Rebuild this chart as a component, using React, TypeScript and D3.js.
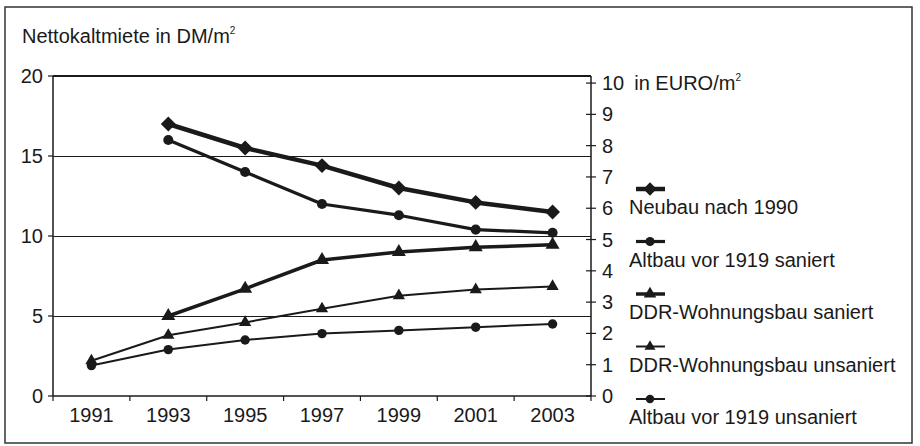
import React from "react";
import * as d3 from "d3";

const years = ["1991", "1993", "1995", "1997", "1999", "2001", "2003"];
const seriesNames = [
  "Neubau nach 1990",
  "Altbau vor 1919 saniert",
  "DDR-Wohnungsbau saniert",
  "DDR-Wohnungsbau unsaniert",
  "Altbau vor 1919 unsaniert",
];
const neubau = [null, 17, 15.5, 14.4, 13, 12.1, 11.5];
const altbauSaniert = [null, 16, 14, 12, 11.3, 10.4, 10.2];
const ddrSaniert = [null, 5, 6.7, 8.5, 9.0, 9.3, 9.45];
const ddrUnsaniert = [2.2, 3.8, 4.6, 5.45, 6.27, 6.65, 6.85];
const altbauUnsaniert = [1.9, 2.9, 3.5, 3.9, 4.1, 4.3, 4.5];
const dmTicks = [0, 5, 10, 15, 20];
const euroTicks = [0, 1, 2, 3, 4, 5, 6, 7, 8, 9, 10];
const DM_PER_EURO = 1.95583;

const seriesValues = [neubau, altbauSaniert, ddrSaniert, ddrUnsaniert, altbauUnsaniert];
const seriesStyle = [
  { marker: "diamond", width: 4.5, size: 80 },
  { marker: "circle", width: 3.2, size: 80 },
  { marker: "triangle", width: 3.5, size: 85 },
  { marker: "triangle", width: 2, size: 65 },
  { marker: "circle", width: 2, size: 70 },
];

const W = 920, H = 446;
const left = 53, right = 591, top = 76, bottom = 396;
const FONT = "'Liberation Sans', Arial, sans-serif";
const INK = "#1a1a1a";
const FS = 20;

const squareDiamond = {
  draw(ctx: any, size: number) {
    const r = Math.sqrt(size) / 1.2;
    ctx.moveTo(0, -r);
    ctx.lineTo(r, 0);
    ctx.lineTo(0, r);
    ctx.lineTo(-r, 0);
    ctx.closePath();
  },
};

function symType(m: string): any {
  if (m === "diamond") return squareDiamond;
  if (m === "triangle") return d3.symbolTriangle;
  return d3.symbolCircle;
}

export default function App() {
  const x = d3.scaleBand<string>().domain(years).range([left, right]);
  const y = d3.scaleLinear().domain([0, 20]).range([bottom, top]);
  const yE = d3.scaleLinear().domain([0, 20 / DM_PER_EURO]).range([bottom, top]);
  const cx = (yr: string) => (x(yr) as number) + x.bandwidth() / 2;

  const line = d3
    .line<{ yr: string; v: number | null }>()
    .defined((d) => d.v != null)
    .x((d) => cx(d.yr))
    .y((d) => y(d.v as number));

  const bounds = [...years.map((yr) => x(yr) as number), right];

  return (
    <svg width={W} height={H} style={{ position: "absolute", left: 0, top: 0, background: "#fff" }}>
      <rect x={5} y={7} width={907} height={436} fill="#fff" stroke="#333" strokeWidth={1.5} />
      <text x={22} y={43} fontFamily={FONT} fontSize={FS} fill={INK}>
        Nettokaltmiete in DM/m<tspan fontSize={10} dy={-9}>2</tspan>
      </text>

      {/* gridlines */}
      {[5, 10, 15].map((v) => (
        <line key={v} x1={left} x2={right} y1={y(v) + 0.5} y2={y(v) + 0.5} stroke={INK} strokeWidth={1} />
      ))}
      <line x1={left} x2={right} y1={y(20)} y2={y(20)} stroke={INK} strokeWidth={2} />

      {/* left axis */}
      <line x1={left} x2={left} y1={top} y2={bottom} stroke={INK} strokeWidth={1.5} />
      {dmTicks.map((t) => (
        <g key={t}>
          <line x1={left - 5} x2={left} y1={y(t)} y2={y(t)} stroke={INK} strokeWidth={1.2} />
          <text x={43} y={y(t)} dy="0.35em" textAnchor="end" fontFamily={FONT} fontSize={FS} fill={INK}>
            {t}
          </text>
        </g>
      ))}

      {/* right axis */}
      <line x1={right} x2={right} y1={top} y2={bottom} stroke={INK} strokeWidth={1.5} />
      {euroTicks.map((t) => (
        <g key={t}>
          <line x1={right - 5} x2={right + 5} y1={yE(t)} y2={yE(t)} stroke={INK} strokeWidth={1.2} />
          <text x={602} y={yE(t)} dy="0.35em" fontFamily={FONT} fontSize={FS} fill={INK}>
            {t}
            {t === 10 ? (
              <>
                <tspan dx={10}>in EURO/m</tspan>
                <tspan fontSize={10} dy={-9}>2</tspan>
              </>
            ) : null}
          </text>
        </g>
      ))}

      {/* x axis */}
      <line x1={left} x2={right} y1={bottom} y2={bottom} stroke={INK} strokeWidth={1.5} />
      {bounds.map((b, i) => (
        <line key={i} x1={b} x2={b} y1={bottom} y2={bottom + 5} stroke={INK} strokeWidth={1.2} />
      ))}
      {years.map((yr) => (
        <text key={yr} x={cx(yr)} y={422} textAnchor="middle" fontFamily={FONT} fontSize={FS} fill={INK}>
          {yr}
        </text>
      ))}

      {/* series */}
      {seriesValues.map((vals, si) => {
        const st = seriesStyle[si];
        const pts = years.map((yr, i) => ({ yr, v: vals[i] }));
        const sym = d3.symbol().type(symType(st.marker)).size(st.size)();
        return (
          <g key={si}>
            <path d={line(pts) || ""} fill="none" stroke={INK} strokeWidth={st.width} strokeLinejoin="round" />
            {pts
              .filter((p) => p.v != null)
              .map((p) => (
                <path key={p.yr} d={sym || ""} transform={`translate(${cx(p.yr)},${y(p.v as number)})`} fill={INK} />
              ))}
          </g>
        );
      })}

      {/* legend */}
      {seriesNames.map((name, i) => {
        const st = seriesStyle[i];
        const ly = 189 + i * 52.5;
        const sym = d3.symbol().type(symType(st.marker)).size(st.size * 0.8)();
        return (
          <g key={name}>
            <line x1={636} x2={665} y1={ly} y2={ly} stroke={INK} strokeWidth={st.width} />
            <path d={sym || ""} transform={`translate(650,${ly})`} fill={INK} />
            <text x={629} y={ly + 25} fontFamily={FONT} fontSize={FS} fill={INK}>
              {name}
            </text>
          </g>
        );
      })}
    </svg>
  );
}
